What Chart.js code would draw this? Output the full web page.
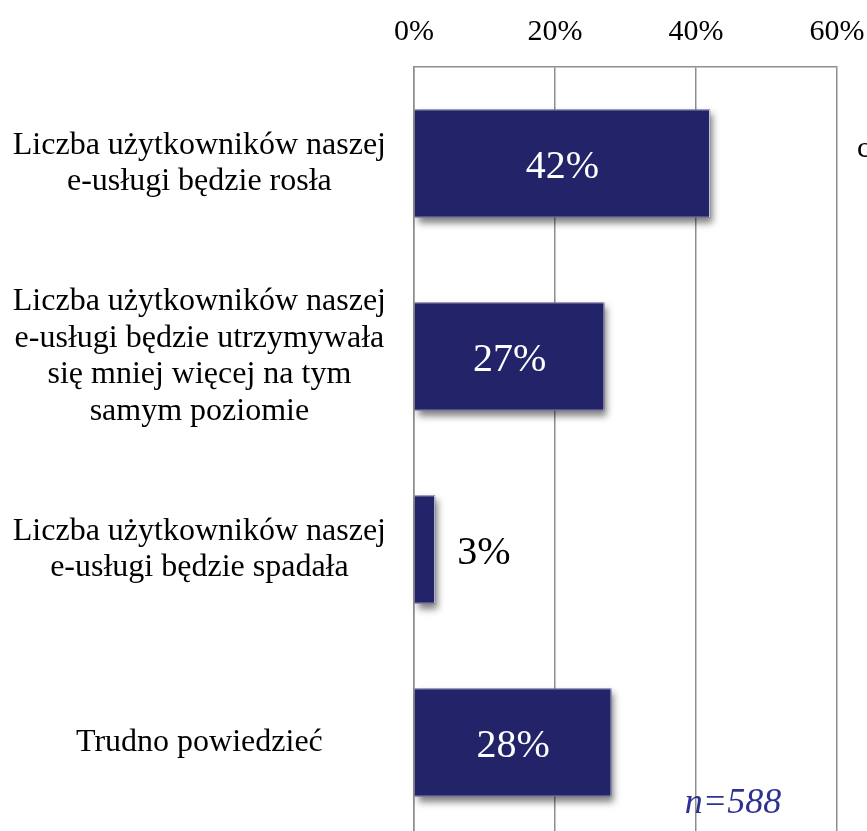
<!DOCTYPE html>
<html>
<head>
<meta charset="utf-8">
<script src="https://cdn.jsdelivr.net/npm/chart.js@4/dist/chart.umd.min.js"></script>
<style>
  html, body { margin: 0; padding: 0; background: #fff; overflow: hidden; }
</style>
</head>
<body>
<canvas id="canvas"></canvas>
<script>
// categories (multi-line labels), values in %, axis ticks
let categories = [
  ['Liczba użytkowników naszej', 'e-usługi będzie rosła'],
  ['Liczba użytkowników naszej', 'e-usługi będzie utrzymywała', 'się mniej więcej na tym', 'samym poziomie'],
  ['Liczba użytkowników naszej', 'e-usługi będzie spadała'],
  'Trudno powiedzieć'
];
let shares = [42, 27, 3, 28];
let axisTicks = [0, 20, 40, 60];
let sampleNote = 'n=588';

let width = 867;
let height = 840;   // a bit taller than the window, bottom gets cut like the original

let serif = '"Liberation Serif", "Times New Roman", serif';
let gridColor = '#8e8e8e';
let barColor = '#232369';

// drop shadow under the bars + value labels
let barExtras = {
  id: 'barExtras',
  beforeDatasetsDraw(chart) {
    let ctx = chart.ctx;
    ctx.save();
    ctx.shadowColor = 'rgba(0,0,0,0.5)';
    ctx.shadowBlur = 7;
    ctx.shadowOffsetX = 3;
    ctx.shadowOffsetY = 5;
    ctx.fillStyle = barColor;
    chart.getDatasetMeta(0).data.forEach((bar) => {
      let h = bar.height;
      ctx.fillRect(bar.base, bar.y - h / 2, bar.x - bar.base, h);
    });
    ctx.restore();
  },
  afterDatasetsDraw(chart) {
    let ctx = chart.ctx;
    ctx.save();
    ctx.font = '40px ' + serif;
    ctx.textBaseline = 'middle';
    chart.getDatasetMeta(0).data.forEach((bar, i) => {
      let label = shares[i] + '%';
      let w = bar.x - bar.base;
      if (w > 60) {
        ctx.fillStyle = '#ffffff';
        ctx.textAlign = 'center';
        ctx.fillText(label, (bar.x + bar.base) / 2, bar.y + 4);
      } else {
        ctx.fillStyle = '#000000';
        ctx.textAlign = 'left';
        ctx.fillText(label, bar.x + 22, bar.y + 4);
      }
    });
    ctx.restore();
  },
  afterDraw(chart) {
    let ctx = chart.ctx;
    ctx.save();
    ctx.font = 'italic 36px ' + serif;
    ctx.fillStyle = '#2e3192';
    ctx.textAlign = 'center';
    ctx.textBaseline = 'alphabetic';
    ctx.fillText(sampleNote, 733, 813);
    // cut-off text at the right edge of the original
    ctx.font = '30px ' + serif;
    ctx.fillStyle = '#000';
    ctx.textAlign = 'left';
    ctx.fillText('c', 857, 157);
    ctx.restore();
  }
};

let options = {
  type: 'bar',
  data: {
    labels: categories,
    datasets: [{
      data: shares,
      backgroundColor: barColor,
      borderColor: 'rgba(255,255,255,0.9)',
      borderWidth: 1,
      categoryPercentage: 1.0,
      barPercentage: 0.56
    }]
  },
  options: {
    indexAxis: 'y',
    animation: false,
    responsive: false,
    layout: { padding: { left: 0, right: 30, top: 0, bottom: 1 } },
    plugins: {
      legend: { display: false },
      tooltip: { enabled: false }
    },
    scales: {
      x: {
        position: 'top',
        min: axisTicks[0],
        max: axisTicks[axisTicks.length - 1],
        afterBuildTicks: (scale) => { scale.ticks = axisTicks.map(v => ({ value: v })); },
        afterFit: (scale) => {
          scale.height = 67;
          scale.paddingLeft = 0;
          scale.paddingRight = 0;
        },
        ticks: {
          callback: (v) => v + '%',
          color: '#000',
          font: { family: serif, size: 30 },
          padding: 17,
          maxRotation: 0
        },
        grid: { color: gridColor, lineWidth: 1.5, drawTicks: false },
        border: { display: true, color: gridColor, width: 1.5 }
      },
      y: {
        afterFit: (scale) => {
          scale.width = 414;
          scale.paddingTop = 0;
          scale.paddingBottom = 0;
        },
        ticks: {
          color: '#000',
          font: { family: serif, size: 32, lineHeight: 1.15 },
          padding: 28,
          crossAlign: 'center',
          autoSkip: false
        },
        grid: { display: false, drawTicks: false },
        border: { display: true, color: gridColor, width: 1.5 }
      }
    }
  },
  plugins: [barExtras]
};

let canvas = document.getElementById('canvas');
canvas.width = width;
canvas.height = height;

let chart = new Chart(canvas, options);
</script>
</body>
</html>
